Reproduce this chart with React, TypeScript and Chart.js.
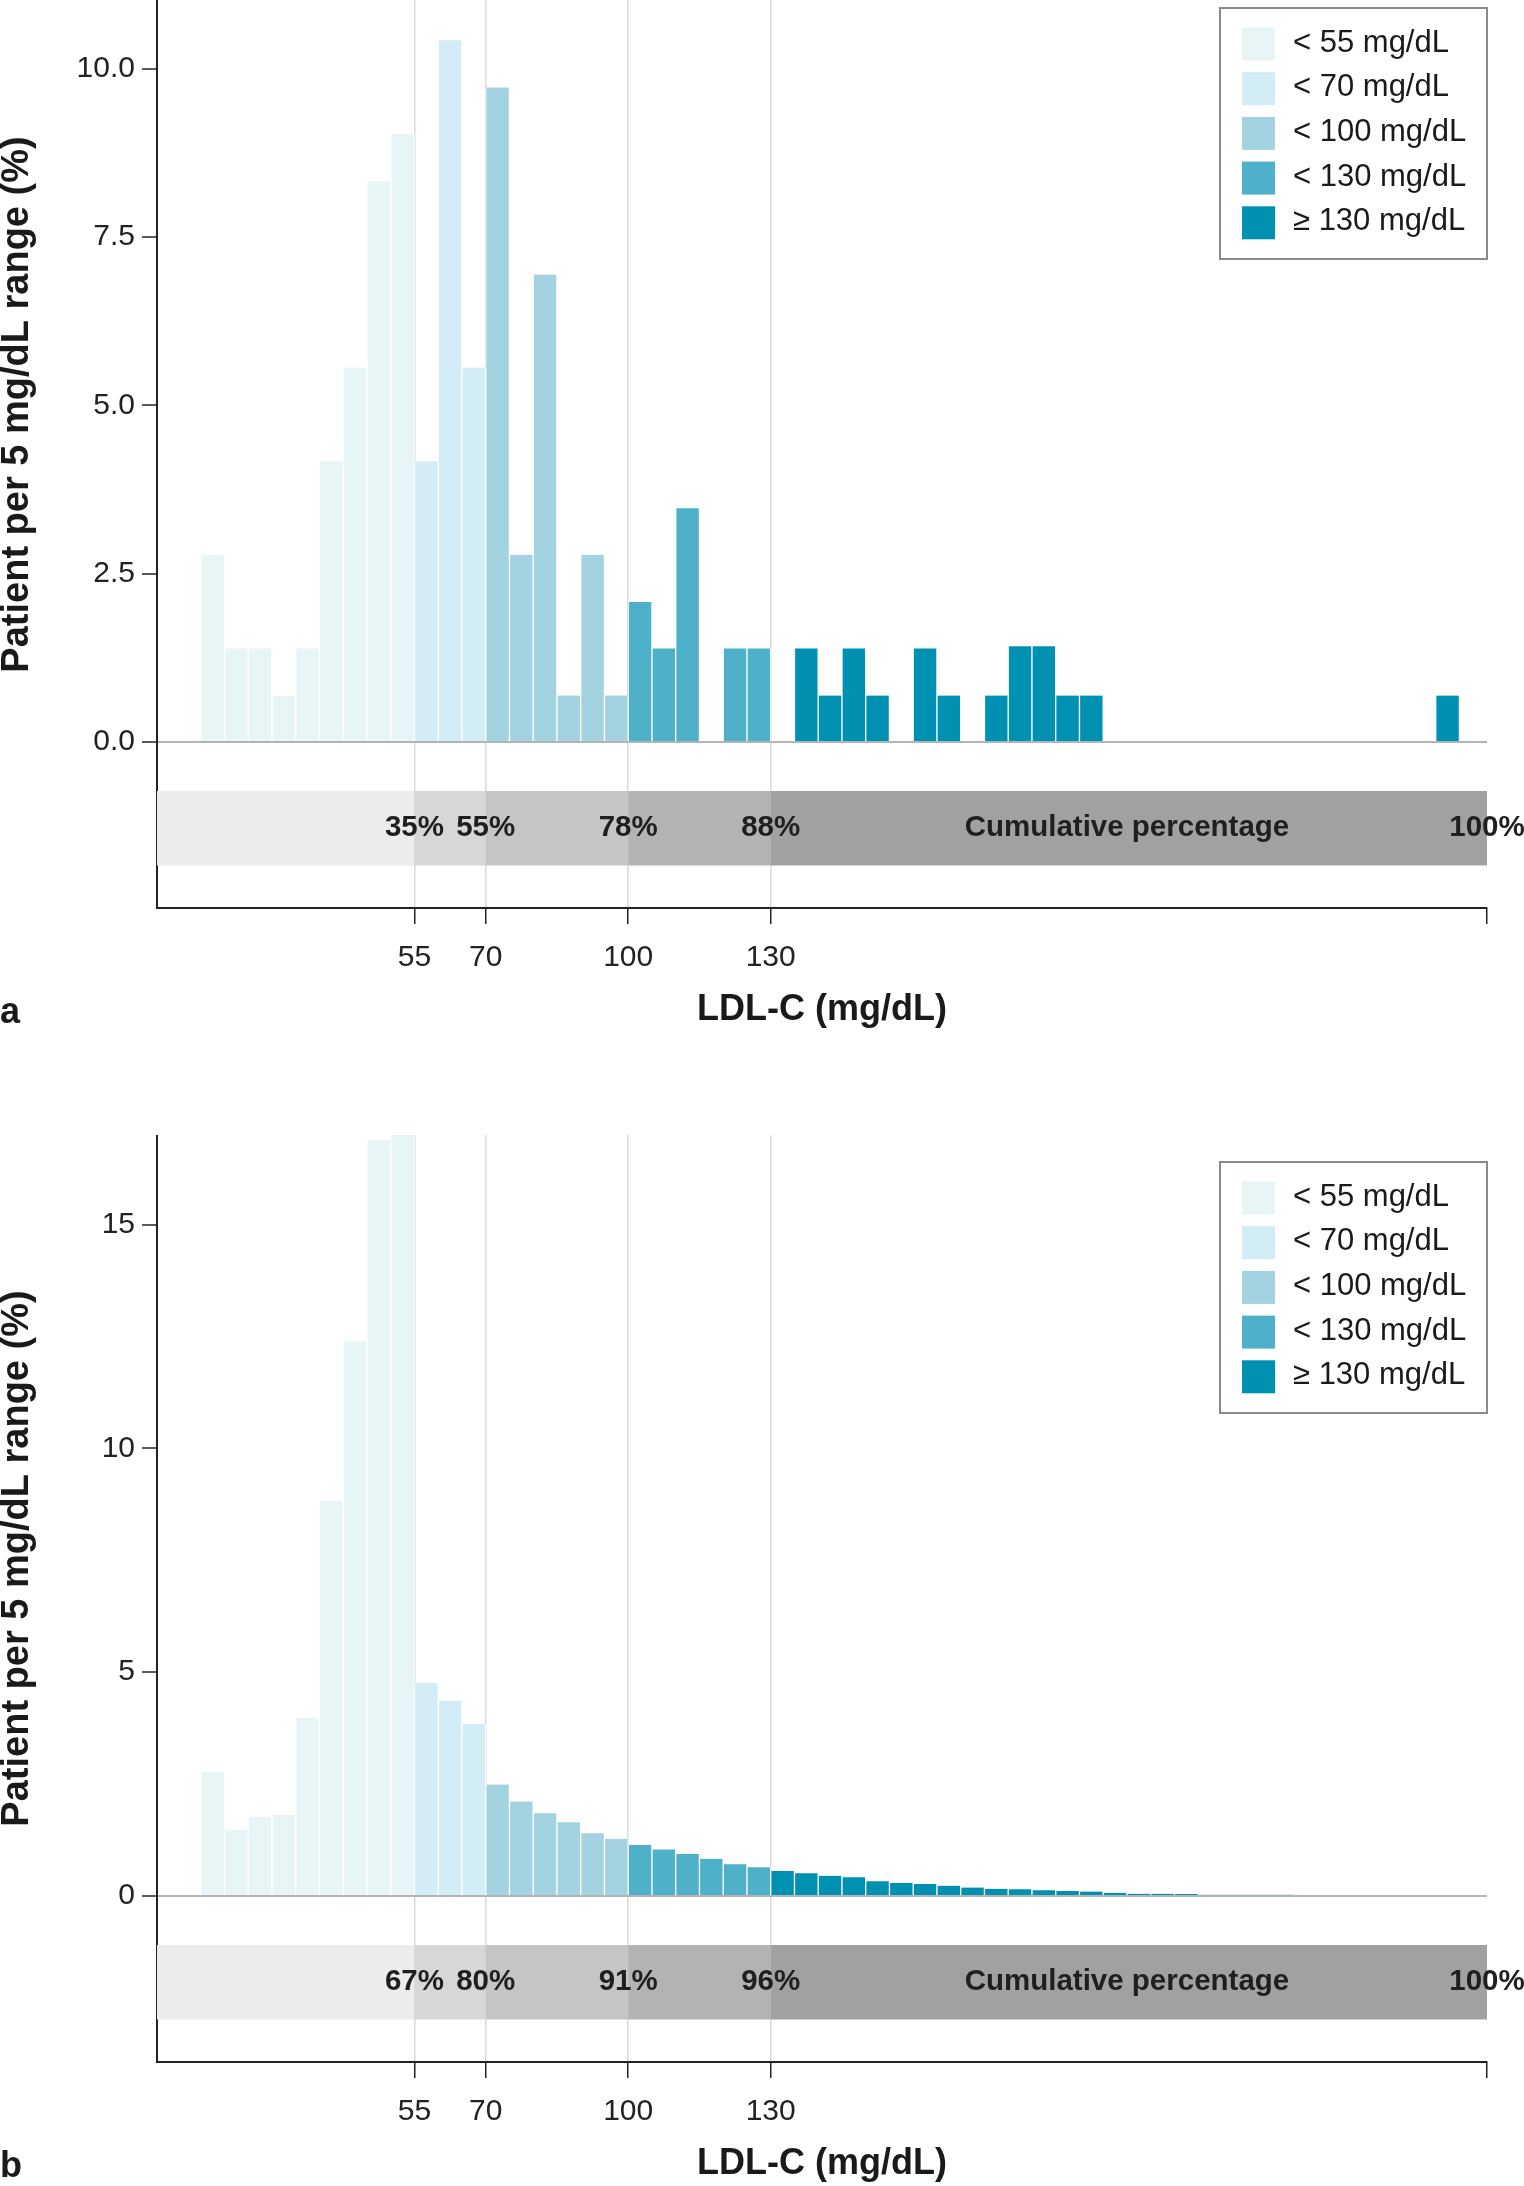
import React, { useEffect, useRef } from "react";
import { Chart, registerables } from "chart.js";

Chart.register(...registerables);

const FONT = "'Liberation Sans', Arial, Helvetica, sans-serif";

// ---- x axis ----
const xMin = 0.8;
const xMax = 280.8;
const xTicks = [55, 70, 100, 130, xMax];
const xTickLabels = ["55", "70", "100", "130", ""];

// ---- categories / legend ----
const rangeLabels = ["< 55 mg/dL", "< 70 mg/dL", "< 100 mg/dL", "< 130 mg/dL", "≥ 130 mg/dL"];
const rangeUpper = [55, 70, 100, 130, Infinity];
const rangeColors = ["#e7f5f7", "#d2edf6", "#a3d3e0", "#4eb1c9", "#0091b2"];
const binWidth = 5;

// ---- cumulative band ----
const bandEdges = [xMin, 55, 70, 100, 130, xMax];
const bandColors = ["#ececec", "#d7d7d7", "#c5c5c5", "#b3b3b3", "#a1a1a1"];
const bandLabelPositions = [55, 70, 100, 130, xMax];
const bandTitle = "Cumulative percentage";
const bandTitlePosition = 205;

// ---- panel a ----
const binsA = [10, 15, 20, 25, 30, 35, 40, 45, 50, 55, 60, 65, 70, 75, 80, 85, 90, 95, 100, 105, 110, 120, 125, 135, 140, 145, 150, 160, 165, 175, 180, 185, 190, 195, 270];
const valuesA = [2.78, 1.39, 1.39, 0.69, 1.39, 4.17, 5.56, 8.33, 9.03, 4.17, 10.42, 5.56, 9.72, 2.78, 6.94, 0.69, 2.78, 0.69, 2.08, 1.39, 3.47, 1.39, 1.39, 1.39, 0.69, 1.39, 0.69, 1.39, 0.69, 0.69, 1.42, 1.42, 0.69, 0.69, 0.69];
const cumulativeA = ["35%", "55%", "78%", "88%", "100%"];
const yTicksA = [0, 2.5, 5, 7.5, 10];
const yTickLabelsA = ["0.0", "2.5", "5.0", "7.5", "10.0"];
const yMaxA = 11.3;

// ---- panel b ----
const binsB = [10, 15, 20, 25, 30, 35, 40, 45, 50, 55, 60, 65, 70, 75, 80, 85, 90, 95, 100, 105, 110, 115, 120, 125, 130, 135, 140, 145, 150, 155, 160, 165, 170, 175, 180, 185, 190, 195, 200, 205, 210, 215, 220, 225, 230, 235];
const valuesB = [2.78, 1.48, 1.77, 1.81, 3.98, 8.83, 12.39, 16.9, 17.0, 4.76, 4.36, 3.84, 2.49, 2.11, 1.85, 1.65, 1.4, 1.28, 1.14, 1.04, 0.94, 0.83, 0.71, 0.64, 0.56, 0.51, 0.45, 0.42, 0.33, 0.29, 0.27, 0.23, 0.19, 0.16, 0.15, 0.13, 0.11, 0.1, 0.07, 0.05, 0.05, 0.045, 0.03, 0.03, 0.03, 0.03];
const cumulativeB = ["67%", "80%", "91%", "96%", "100%"];
const yTicksB = [0, 5, 10, 15];
const yTickLabelsB = ["0", "5", "10", "15"];
const yMaxB = 17;

// ---- layout (pixels) ----
const PAGE_W = 1524;
const PAGE_H = 2186;
const CANVAS_H = 1060;
const PLOT_LEFT = 157;
const PLOT_RIGHT = 1487;
const ABOVE = 761;
const BELOW = 166;
const BAND_OFFSET = 49;
const BAND_H = 74.5;
const LEG_W = 267;
const LEG_H = 251;
const LEG_TOP = 27;

type PanelSpec = {
  top: number;
  letter: string;
  bins: number[];
  values: number[];
  cumulative: string[];
  yTicks: number[];
  yTickLabels: string[];
  yMax: number;
};

const panels: PanelSpec[] = [
  { top: -19, letter: "a", bins: binsA, values: valuesA, cumulative: cumulativeA, yTicks: yTicksA, yTickLabels: yTickLabelsA, yMax: yMaxA },
  { top: 1135, letter: "b", bins: binsB, values: valuesB, cumulative: cumulativeB, yTicks: yTicksB, yTickLabels: yTickLabelsB, yMax: yMaxB },
];

function buildDatasets(bins: number[], values: number[]) {
  return rangeLabels.map((label, r) => {
    const lower = r === 0 ? -Infinity : rangeUpper[r - 1];
    const upper = rangeUpper[r];
    const data: { x: number; y: number }[] = [];
    bins.forEach((b, i) => {
      if (b >= lower && b < upper) data.push({ x: b + binWidth / 2, y: values[i] });
    });
    return {
      label,
      data,
      backgroundColor: rangeColors[r],
      borderColor: "rgba(255,255,255,0.95)",
      borderWidth: { left: 1, right: 1, top: 0, bottom: 0 },
      grouped: false,
      categoryPercentage: 1,
      barPercentage: 1,
    };
  });
}

function makeOverlay(spec: PanelSpec) {
  return {
    id: "overlay_" + spec.letter,
    beforeDatasetsDraw(chart: any) {
      const { ctx } = chart;
      const x = chart.scales.x;
      const y = chart.scales.y;
      const zero = y.getPixelForValue(0);
      const top = zero + BAND_OFFSET;
      ctx.save();
      for (let i = 0; i < bandColors.length; i++) {
        const x0 = x.getPixelForValue(bandEdges[i]);
        const x1 = x.getPixelForValue(bandEdges[i + 1]);
        ctx.fillStyle = bandColors[i];
        ctx.fillRect(x0, top, x1 - x0, BAND_H);
      }
      ctx.restore();
    },
    afterDatasetsDraw(chart: any) {
      const { ctx } = chart;
      const x = chart.scales.x;
      const y = chart.scales.y;
      const zero = y.getPixelForValue(0);
      const mid = zero + BAND_OFFSET + BAND_H / 2;
      ctx.save();
      ctx.fillStyle = "#1f1f1f";
      ctx.font = `bold 29.5px ${FONT}`;
      ctx.textAlign = "center";
      ctx.textBaseline = "middle";
      spec.cumulative.forEach((t, i) => {
        ctx.fillText(t, x.getPixelForValue(bandLabelPositions[i]), mid);
      });
      ctx.fillText(bandTitle, x.getPixelForValue(bandTitlePosition), mid);
      ctx.restore();
    },
    afterDraw(chart: any) {
      const { ctx, chartArea } = chart;
      ctx.save();
      // legend
      const lx = chartArea.right - LEG_W;
      const ly = chartArea.top + LEG_TOP;
      ctx.fillStyle = "#ffffff";
      ctx.fillRect(lx, ly, LEG_W, LEG_H);
      ctx.strokeStyle = "#8a8a8a";
      ctx.lineWidth = 2;
      ctx.strokeRect(lx, ly, LEG_W, LEG_H);
      ctx.font = `31px ${FONT}`;
      ctx.textAlign = "left";
      ctx.textBaseline = "middle";
      chart.data.datasets.forEach((ds: any, i: number) => {
        const sy = ly + 19.5 + i * 44.7;
        ctx.fillStyle = ds.backgroundColor;
        ctx.fillRect(lx + 22, sy, 33, 33);
        ctx.fillStyle = "#1a1a1a";
        ctx.fillText(ds.label, lx + 73, sy + 15.5);
      });
      // y axis title
      ctx.save();
      ctx.translate(28, (chartArea.top + chartArea.bottom) / 2 - 40);
      ctx.rotate(-Math.PI / 2);
      ctx.font = `bold 38px ${FONT}`;
      ctx.fillStyle = "#1a1a1a";
      ctx.textAlign = "center";
      ctx.textBaseline = "alphabetic";
      ctx.fillText("Patient per 5 mg/dL range (%)", 0, 0);
      ctx.restore();
      // panel letter
      ctx.font = `bold 36px ${FONT}`;
      ctx.fillStyle = "#1a1a1a";
      ctx.textAlign = "left";
      ctx.textBaseline = "alphabetic";
      ctx.fillText(spec.letter, 0, chartArea.bottom + 115);
      ctx.restore();
    },
  };
}

function Panel({ spec }: { spec: PanelSpec }) {
  const ref = useRef<HTMLCanvasElement | null>(null);
  useEffect(() => {
    if (!ref.current) return;
    const yMin = -spec.yMax * (BELOW / ABOVE);
    const chart = new Chart(ref.current, {
      type: "bar",
      data: { datasets: buildDatasets(spec.bins, spec.values) as any },
      options: {
        animation: false,
        responsive: false,
        devicePixelRatio: 1,
        events: [],
        layout: {
          autoPadding: false,
          padding: { left: 0, top: 0, right: PAGE_W - PLOT_RIGHT, bottom: 0 },
        },
        plugins: { legend: { display: false }, tooltip: { enabled: false }, title: { display: false } },
        scales: {
          x: {
            type: "linear",
            min: xMin,
            max: xMax,
            offset: false,
            afterFit: (s: any) => {
              s.height = CANVAS_H - (ABOVE + BELOW);
              s.paddingLeft = 0;
              s.paddingRight = 0;
              s.paddingTop = 0;
              s.paddingBottom = 0;
            },
            afterBuildTicks: (s: any) => {
              s.ticks = xTicks.map((v) => ({ value: v }));
            },
            grid: {
              offset: false,
              drawOnChartArea: true,
              drawTicks: true,
              color: (c: any) => (c.tick && c.tick.value === xMax ? "rgba(0,0,0,0)" : "#d9d9d9"),
              lineWidth: 1.5,
              tickColor: "#222222",
              tickWidth: 1.5,
              tickLength: 16,
            },
            border: { display: true, color: "#222222", width: 2 },
            ticks: {
              autoSkip: false,
              maxRotation: 0,
              minRotation: 0,
              padding: 16,
              color: "#222222",
              font: { family: FONT, size: 30 },
              callback: (_v: any, i: number) => xTickLabels[i],
            },
            title: {
              display: true,
              text: "LDL-C (mg/dL)",
              color: "#1a1a1a",
              font: { family: FONT, size: 36, weight: "bold" },
              padding: { top: 0, bottom: 9 },
            },
          },
          y: {
            type: "linear",
            min: yMin,
            max: spec.yMax,
            afterFit: (s: any) => {
              s.width = PLOT_LEFT;
              s.paddingTop = 0;
              s.paddingBottom = 0;
              s.paddingLeft = 0;
              s.paddingRight = 0;
            },
            afterBuildTicks: (s: any) => {
              s.ticks = spec.yTicks.map((v) => ({ value: v }));
            },
            grid: {
              drawOnChartArea: true,
              drawTicks: true,
              color: (c: any) => (c.tick && c.tick.value === 0 ? "#b4b4b4" : "rgba(0,0,0,0)"),
              lineWidth: 2,
              tickColor: "#222222",
              tickWidth: 1.5,
              tickLength: 15,
            },
            border: { display: true, color: "#222222", width: 2 },
            ticks: {
              autoSkip: false,
              padding: 7,
              color: "#222222",
              font: { family: FONT, size: 30 },
              callback: (_v: any, i: number) => spec.yTickLabels[i],
            },
          },
        },
      } as any,
      plugins: [makeOverlay(spec)],
    });
    return () => chart.destroy();
  }, [spec]);
  return (
    <canvas
      ref={ref}
      width={PAGE_W}
      height={CANVAS_H}
      style={{ position: "absolute", left: 0, top: spec.top, width: PAGE_W, height: CANVAS_H }}
    />
  );
}

export default function App() {
  return (
    <div
      style={{
        position: "absolute",
        left: 0,
        top: 0,
        width: PAGE_W,
        height: PAGE_H,
        overflow: "hidden",
        background: "#ffffff",
      }}
    >
      {panels.map((p) => (
        <Panel key={p.letter} spec={p} />
      ))}
    </div>
  );
}
